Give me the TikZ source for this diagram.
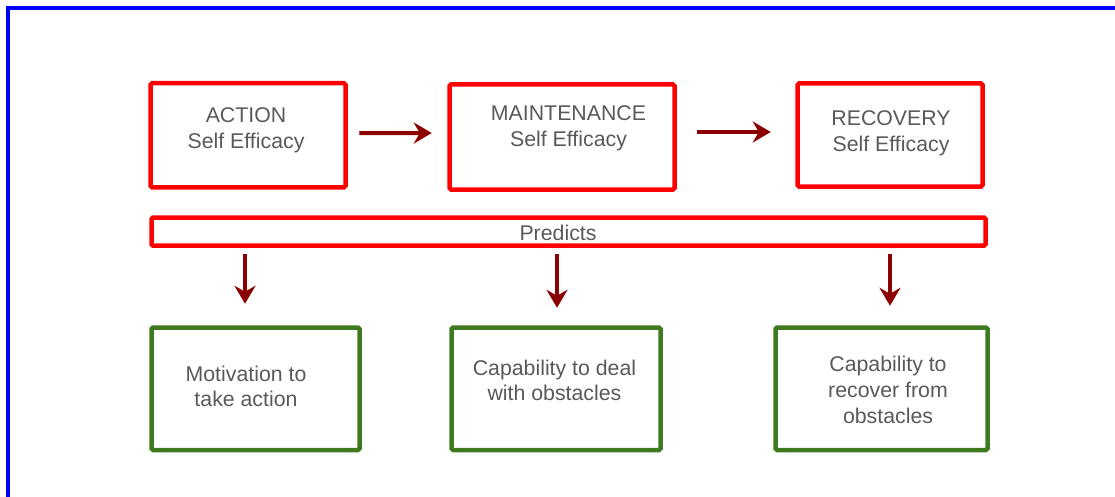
\documentclass[tikz,border=0pt]{standalone}
\usepackage{fontspec}
\setmainfont{Liberation Sans}
\usepackage{xcolor}
\usetikzlibrary{positioning, calc, arrows.meta}
\definecolor{FrameColor}{rgb}{0,0,1}
\definecolor{StageColor}{rgb}{1,0,0}
\definecolor{OutcomeColor}{RGB}{63,122,30}
\definecolor{FlowColor}{RGB}{139,0,0}
\definecolor{LabelColor}{RGB}{89,89,86}
\tikzset{
    stagebox/.style={
        shape=rectangle,
        draw=StageColor,
        line width=4.5pt,
        rounded corners=1.5pt,
        inner sep=0pt,
        minimum height=104pt
    },
    outcomebox/.style={
        shape=rectangle,
        draw=OutcomeColor,
        line width=4.5pt,
        rounded corners=1.5pt,
        inner sep=0pt,
        minimum height=122.5pt
    },
    boxtext/.style={
        text=LabelColor,
        align=center,
        inner sep=0pt,
        font=\fontsize{21.3}{25.7}\selectfont
    },
    flow/.style={
        -{Stealth[length=18pt, width=21pt, inset=6pt]},
        draw=FlowColor,
        line width=4pt
    }
}

\begin{document}
\begin{tikzpicture}[x=1pt, y=-1pt]

\useasboundingbox (0,0) rectangle (1115,497);

% Frame
\draw[FrameColor, line width=4pt] (8,8) rectangle (1135,515);

% Stages (top row)
\node[stagebox, minimum width=195pt] (action) at (248,135.25) {};
\node[boxtext] (actiontext) at (246,130.5) {ACTION\\Self Efficacy};

\node[stagebox, minimum width=225pt, minimum height=105pt] (maint) at (562,137) {};
\node[boxtext] (mainttext) at (568.5,128.5) {MAINTENANCE\\Self Efficacy};

\node[stagebox, minimum width=185pt, minimum height=103pt] (recovery) at (890,135) {};
\node[boxtext] (recoverytext) at (891,133.5) {RECOVERY\\Self Efficacy};

% Predicts bar
\node[stagebox, minimum width=834pt, minimum height=28pt] (predicts) at (568.5,231.6) {};
\node[boxtext] (predictstext) at (558,233) {Predicts};

% Outcomes (bottom row)
\node[outcomebox, minimum width=208pt] (motiv) at (255.5,388.75) {};
\node[boxtext] (motivtext) at (246,386.5) {Motivation to\\take action};

\node[outcomebox, minimum width=209pt] (obstacle) at (556,388.75) {};
\node[boxtext] (obstacletext) at (554.5,380.5) {Capability to deal\\with obstacles};

\node[outcomebox, minimum width=212pt] (recover) at (881.5,388.75) {};
\node[boxtext] (recovertext) at (888,390) {Capability to\\recover from\\obstacles};

% Arrows
\draw[flow] ([xshift=11.5pt, yshift=2pt]action.east) -- ([xshift=-15.5pt, yshift=4pt]maint.west);
\draw[flow] ([xshift=20.5pt, yshift=5pt]maint.east) -- ([xshift=-24.5pt, yshift=3pt]recovery.west);

\draw[flow] ($(predicts.south -| motivtext)+(-1,6.4)$) -- ($(motiv.north -| motivtext)+(-1,-21.5)$);
\draw[flow] ($(predicts.south -| obstacletext)+(2.5,6.4)$) -- ($(obstacle.north -| obstacletext)+(2.5,-17.5)$);
\draw[flow] ($(predicts.south -| recovertext)+(2,6.4)$) -- ($(recover.north -| recovertext)+(2,-19.5)$);

\end{tikzpicture}
\end{document}
